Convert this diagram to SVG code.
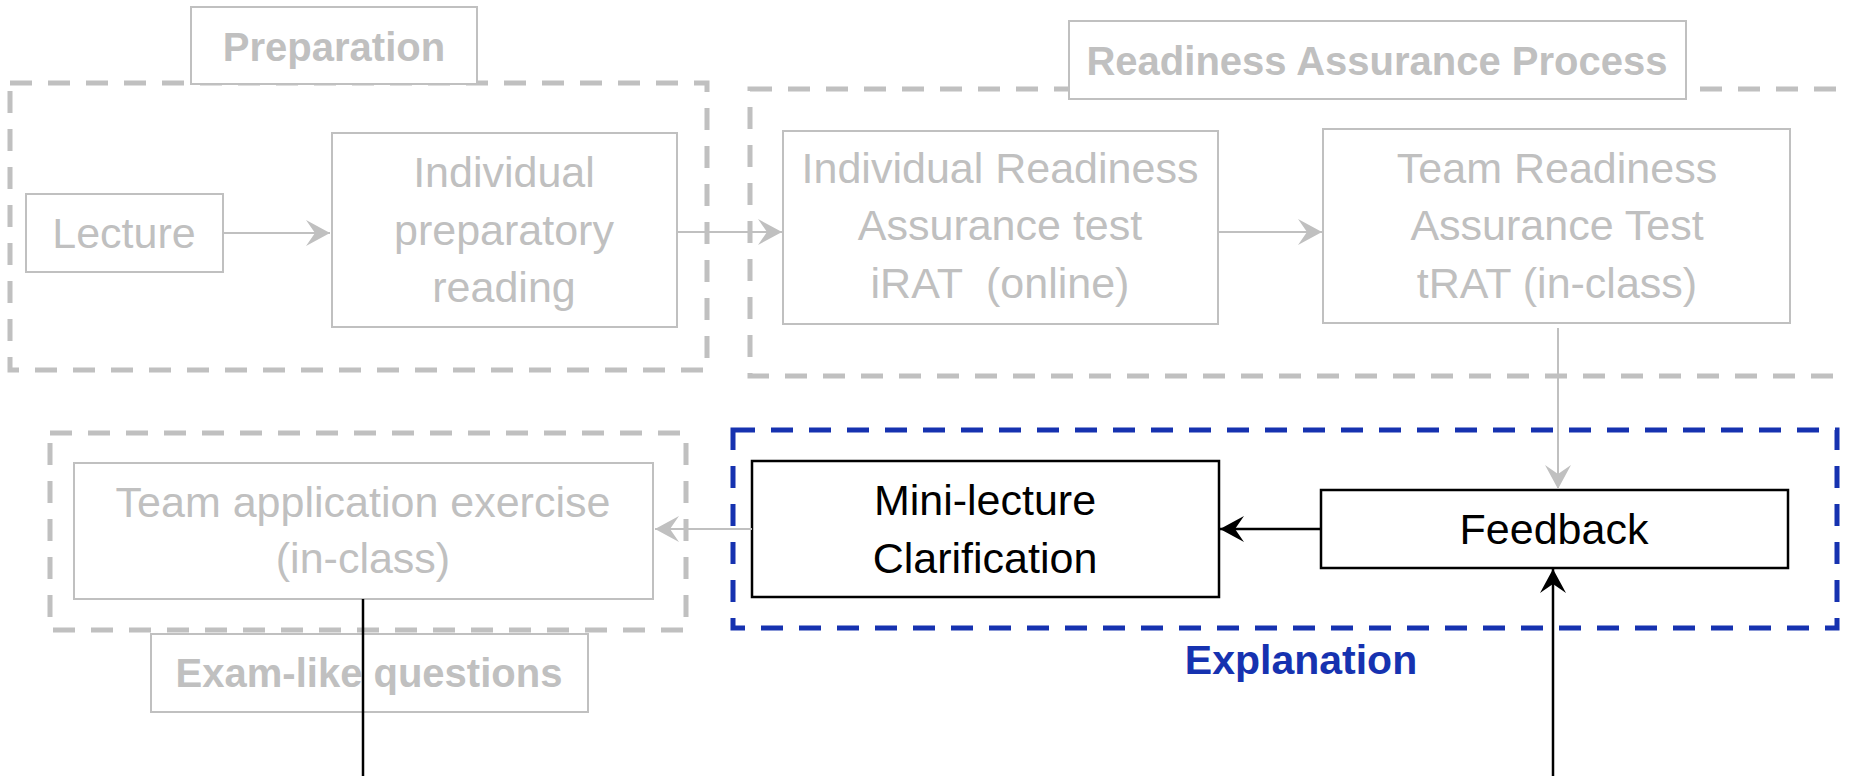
<svg xmlns="http://www.w3.org/2000/svg" width="1849" height="776" viewBox="0 0 1849 776">
<style>
.dash{fill:none;stroke:#c0c0c0;stroke-width:5;stroke-dasharray:22 16}
.bdash{fill:none;stroke:#1632b0;stroke-width:5;stroke-dasharray:22 16}
.gbox{fill:#fff;stroke:#c0c0c0;stroke-width:2}
.kbox{fill:#fff;stroke:#000;stroke-width:2.5}
.gt{font-family:"Liberation Sans",Arial,sans-serif;font-size:43px;fill:#c0c0c0;text-anchor:middle}
.kt{font-family:"Liberation Sans",Arial,sans-serif;font-size:43px;fill:#000;text-anchor:middle}
.gl{font-family:"Liberation Sans",Arial,sans-serif;font-size:40px;font-weight:bold;fill:#c0c0c0;text-anchor:middle}
.bl{font-family:"Liberation Sans",Arial,sans-serif;font-size:41px;font-weight:bold;fill:#1632b0;text-anchor:middle}
.gc{fill:none;stroke:#c0c0c0;stroke-width:2}
.kc{fill:none;stroke:#000;stroke-width:2.5}
</style>
<defs>
<marker id="ag" markerUnits="userSpaceOnUse" markerWidth="26" markerHeight="28" refX="24" refY="13" orient="auto"><path d="M0,0 L24,13 L0,26 L9,13 z" fill="#c0c0c0"/></marker>
<marker id="ak" markerUnits="userSpaceOnUse" markerWidth="26" markerHeight="28" refX="24" refY="13" orient="auto"><path d="M0,0 L24,13 L0,26 L9,13 z" fill="#000"/></marker>
</defs>
<rect width="1849" height="776" fill="#fff"/>
<g id="group-preparation">
<rect class="dash" x="10" y="83" width="697" height="287"/>
<rect class="gbox" x="191" y="7" width="286" height="77"/>
<text class="gl" x="334" y="61">Preparation</text>
</g>
<g id="group-rap">
<rect class="dash" x="750" y="89" width="1120" height="287"/>
<rect class="gbox" x="1069" y="21" width="617" height="78"/>
<text class="gl" x="1377" y="75">Readiness Assurance Process</text>
</g>
<g id="group-team">
<rect class="dash" x="50" y="433" width="636" height="197"/>
<rect class="gbox" x="151" y="634" width="437" height="78"/>
<text class="gl" x="369" y="687">Exam-like questions</text>
</g>
<g id="group-explanation">
<rect class="bdash" x="733" y="430" width="1104" height="198"/>
<text class="bl" x="1301" y="674">Explanation</text>
</g>
<g id="lecture">
<rect class="gbox" x="26" y="194" width="197" height="78"/>
<text class="gt" x="124" y="248">Lecture</text>
</g>
<g id="reading">
<rect class="gbox" x="332" y="133" width="345" height="194"/>
<text class="gt" x="504" y="187">Individual</text>
<text class="gt" x="504" y="245">preparatory</text>
<text class="gt" x="504" y="302">reading</text>
</g>
<g id="irat">
<rect class="gbox" x="783" y="131" width="435" height="193"/>
<text class="gt" x="1000" y="183">Individual Readiness</text>
<text class="gt" x="1000" y="240">Assurance test</text>
<text class="gt" x="1000" y="298" xml:space="preserve">iRAT  (online)</text>
</g>
<g id="trat">
<rect class="gbox" x="1323" y="129" width="467" height="194"/>
<text class="gt" x="1557" y="183">Team Readiness</text>
<text class="gt" x="1557" y="240">Assurance Test</text>
<text class="gt" x="1557" y="298">tRAT (in-class)</text>
</g>
<g id="team-app">
<rect class="gbox" x="74" y="463" width="579" height="136"/>
<text class="gt" x="363" y="517">Team application exercise</text>
<text class="gt" x="363" y="573">(in-class)</text>
</g>
<g id="mini-lecture">
<rect class="kbox" x="752" y="461" width="467" height="136"/>
<text class="kt" x="985" y="515">Mini-lecture</text>
<text class="kt" x="985" y="573">Clarification</text>
</g>
<g id="feedback">
<rect class="kbox" x="1321" y="490" width="467" height="78"/>
<text class="kt" x="1554" y="544">Feedback</text>
</g>
<g id="connectors">
<line class="gc" x1="223" y1="233" x2="330" y2="233" marker-end="url(#ag)"/>
<line class="gc" x1="677" y1="232" x2="782" y2="232" marker-end="url(#ag)"/>
<line class="gc" x1="1218" y1="232" x2="1322" y2="232" marker-end="url(#ag)"/>
<line class="gc" x1="1558" y1="328" x2="1558" y2="489" marker-end="url(#ag)"/>
<line class="kc" x1="1321" y1="529" x2="1220" y2="529" marker-end="url(#ak)"/>
<line class="gc" x1="752" y1="529" x2="655" y2="529" marker-end="url(#ag)"/>
<line class="kc" x1="1553" y1="776" x2="1553" y2="569" marker-end="url(#ak)"/>
<line class="kc" x1="363" y1="599" x2="363" y2="776"/>
</g>
</svg>
